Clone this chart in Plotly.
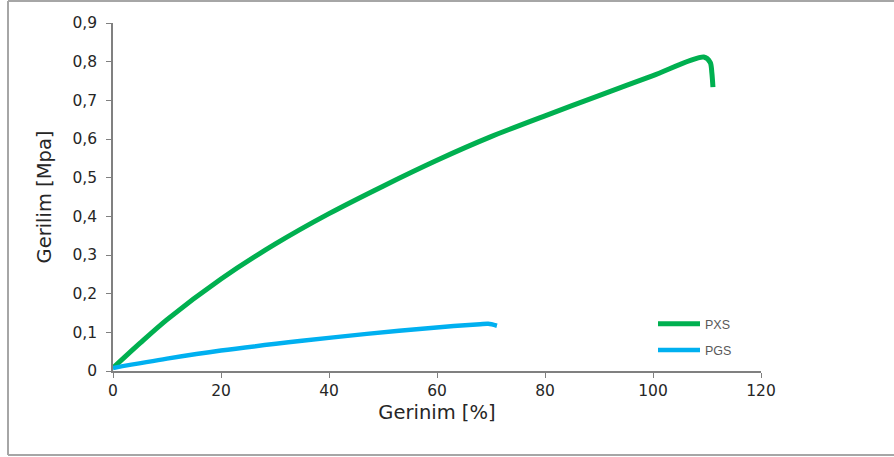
import plotly.graph_objects as go

# Data
pxs_strain = [0, 5, 10, 20, 30, 40, 50, 60, 70, 80, 90, 100, 109.4, 110.6, 110.9, 111.1]
pxs_stress = [0.008, 0.072, 0.133, 0.238, 0.328, 0.407, 0.478, 0.545, 0.606, 0.660, 0.712, 0.764, 0.812, 0.798, 0.771, 0.734]

pgs_strain = [0, 10, 20, 35, 47, 59.4, 68, 69.5, 71.1]
pgs_stress = [0.008, 0.032, 0.053, 0.078, 0.096, 0.112, 0.121, 0.122, 0.117]

x_ticks = [0, 20, 40, 60, 80, 100, 120]
y_ticks = [0, 0.1, 0.2, 0.3, 0.4, 0.5, 0.6, 0.7, 0.8, 0.9]
y_tick_labels = ["0", "0,1", "0,2", "0,3", "0,4", "0,5", "0,6", "0,7", "0,8", "0,9"]

tick_family = "DejaVu Sans, Arial, sans-serif"
legend_family = "Liberation Sans, Arial, sans-serif"

fig = go.Figure()
fig.add_trace(go.Scatter(
    x=pxs_strain, y=pxs_stress, mode="lines", name="PXS",
    line=dict(color="#00B050", width=5, shape="spline", smoothing=0.8),
    legendgroup="a",
))
fig.add_trace(go.Scatter(
    x=pgs_strain, y=pgs_stress, mode="lines", name="PGS",
    line=dict(color="#00B0F0", width=4.5, shape="spline", smoothing=0.8),
    legendgroup="b",
))

W, H = 894, 457
ml, mr, mt, mb = 113, 133, 23, 86
pw, ph = W - ml - mr, H - mt - mb

def px_x(p):
    return (p - ml) / pw

def px_y(p):
    return (H - mb - p) / ph

border = dict(color="#A6A6A6", width=2)
shapes = [
    dict(type="line", xref="paper", yref="paper", x0=px_x(8), x1=px_x(900), y0=px_y(1), y1=px_y(1), line=border),
    dict(type="line", xref="paper", yref="paper", x0=px_x(8), x1=px_x(900), y0=px_y(455), y1=px_y(455), line=border),
    dict(type="line", xref="paper", yref="paper", x0=px_x(8), x1=px_x(8), y0=px_y(1), y1=px_y(455), line=border),
]

fig.update_layout(
    width=W, height=H,
    margin=dict(l=ml, r=mr, t=mt, b=mb),
    paper_bgcolor="white", plot_bgcolor="white",
    font=dict(family=tick_family, color="#262626"),
    shapes=shapes,
    showlegend=True,
    legend=dict(
        x=px_x(653), y=px_y(309), xanchor="left", yanchor="top",
        font=dict(size=12.5, color="#595959", family=legend_family),
        tracegroupgap=7, itemwidth=42, bgcolor="rgba(0,0,0,0)",
    ),
    xaxis=dict(
        range=[0, 120], tickvals=x_ticks, ticks="outside", ticklen=5,
        tickcolor="#808080", showline=True, linecolor="#808080", linewidth=1.5,
        showgrid=False, zeroline=False,
        tickfont=dict(size=15.5, color="#262626", family=tick_family),
        title=dict(text="Gerinim [%]", font=dict(size=19.5, color="#262626", family=tick_family), standoff=6),
    ),
    yaxis=dict(
        range=[0, 0.9], tickvals=y_ticks, ticktext=y_tick_labels, ticks="outside", ticklen=5,
        tickcolor="#808080", showline=True, linecolor="#808080", linewidth=1.5,
        showgrid=False, zeroline=False,
        tickfont=dict(size=15.5, color="#262626", family=tick_family),
        ticklabelstandoff=6,
        title=dict(text="Gerilim [Mpa]", font=dict(size=19.5, color="#262626", family=tick_family), standoff=16),
    ),
)

fig.write_html("out.html", config={"displayModeBar": False},
               post_script="document.body.style.margin='0';")
